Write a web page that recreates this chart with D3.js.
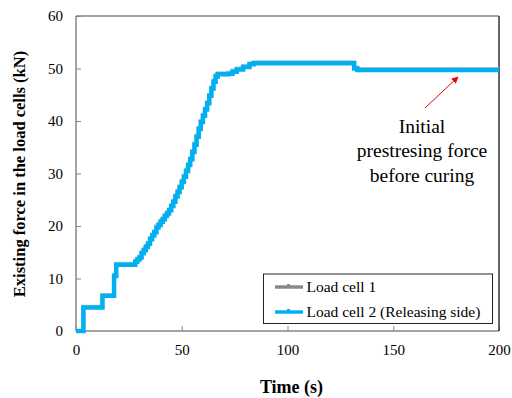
<!DOCTYPE html>
<html><head><meta charset="utf-8">
<script src="https://cdn.jsdelivr.net/npm/d3@7"></script>
<style>body{margin:0;background:#fff}svg{display:block}svg text{font-family:'Liberation Serif','Times New Roman',Times,serif !important;fill:#000}</style>
</head><body><svg id="c" width="512" height="398"></svg>
<script>
const timeS = [0,2.5,3.5,12,12.5,17,18,19,27,28,29,30,31,32,33,34,35,36,37,38,39,40,41,42,43,44,45,46,47,48,49,50,51,52,53,54,55,56,57,58,59,60,61,62,63,64,65,66,67,72,74,76,79,82,84,100,120,130,131.5,133,150,175,200];
const loadCell2 = [0,0,4.5,4.5,6.7,6.7,10.5,12.6,12.6,13.2,13.6,14.0,14.8,15.4,16.0,16.6,17.5,18.2,18.8,19.7,20.2,20.8,21.3,21.9,22.4,23.0,23.8,24.6,25.6,26.5,27.4,28.4,29.4,30.5,31.6,32.7,34.1,35.5,37.0,38.5,39.8,41.0,42.2,43.4,44.8,46.2,47.5,48.5,48.9,49.0,49.4,49.8,50.3,50.8,51.0,51.0,51.0,51.0,50.0,49.7,49.7,49.7,49.7];
const loadCell1 = [0,0,4.6,4.6,6.8,6.8,10.7,12.8,12.8,13.4,13.8,14.2,15.0,15.6,16.2,16.8,17.7,18.4,19.0,19.9,20.4,21.0,21.5,22.1,22.6,23.2,24.0,24.8,25.8,26.7,27.6,28.6,29.6,30.7,31.8,32.9,34.3,35.7,37.2,38.7,40.0,41.2,42.4,43.6,45.0,46.4,47.7,48.7,49.1,49.2,49.6,50.0,50.5,51.0,51.2,51.2,51.2,51.2,50.2,49.9,49.9,49.9,49.9];
const seriesNames = ["Load cell 1","Load cell 2 (Releasing side)"];
const xTicks = [0,50,100,150,200];
const yTicks = [0,10,20,30,40,50,60];
const noteLines = ["Initial","prestresing force","before curing"];

const svg = d3.select("#c");
const L=76,R=499,T=16,B=331;
const x=d3.scaleLinear().domain([0,200]).range([L,R]);
const y=d3.scaleLinear().domain([0,60]).range([B,T]);

const gx=svg.append("g").attr("transform",`translate(0,${B})`)
  .call(d3.axisBottom(x).tickValues(xTicks).tickSize(-5).tickPadding(13).tickFormat(d3.format("d")));
gx.attr("font-family",null);
gx.select(".domain").remove();
gx.selectAll("line").attr("stroke","#868686");
gx.selectAll("text").attr("font-size",15);
const gy=svg.append("g").attr("transform",`translate(${L},0)`)
  .call(d3.axisLeft(y).tickValues(yTicks).tickSize(-5).tickPadding(13).tickFormat(d3.format("d")));
gy.attr("font-family",null);
gy.select(".domain").remove();
gy.selectAll("line").attr("stroke","#868686");
gy.selectAll("text").attr("font-size",15);

svg.append("line").attr("x1",L).attr("x2",R).attr("y1",T).attr("y2",T).attr("stroke","#868686").attr("stroke-width",1.5);
svg.append("line").attr("x1",L).attr("x2",L).attr("y1",T).attr("y2",B).attr("stroke","#868686").attr("stroke-width",1.5);
svg.append("line").attr("x1",L).attr("x2",R).attr("y1",B).attr("y2",B).attr("stroke","#868686").attr("stroke-width",1.5);
svg.append("line").attr("x1",R).attr("x2",R).attr("y1",T).attr("y2",B).attr("stroke","#333").attr("stroke-width",1.5);

const line=d3.line().x((d,i)=>x(timeS[i])).y(d=>y(d)).curve(d3.curveStepAfter);
svg.append("path").attr("d",line(loadCell1)).attr("fill","none").attr("stroke","#c4c4c4").attr("stroke-width",4);
svg.append("path").attr("d",line(loadCell2)).attr("fill","none").attr("stroke","#00B0F0").attr("stroke-width",4.5);

const lg=svg.append("g");
lg.append("rect").attr("x",263.5).attr("y",274).attr("width",229).attr("height",49.5).attr("fill","#fff").attr("stroke","#222").attr("stroke-width",1);
const cols=["#888","#00B0F0"];
seriesNames.forEach((n,i)=>{
  const yy=287+i*25;
  lg.append("line").attr("x1",275).attr("x2",303).attr("y1",yy).attr("y2",yy).attr("stroke",cols[i]).attr("stroke-width",3.5);
  lg.append("rect").attr("x",287).attr("y",yy-3).attr("width",3).attr("height",3).attr("fill",cols[i]);
  lg.append("text").attr("x",306.5).attr("y",yy+5).attr("font-size",15.5).text(n);
});

const defs=svg.append("defs");
defs.append("marker").attr("id","ah").attr("viewBox","0 0 10 10").attr("refX",9).attr("refY",5)
  .attr("markerWidth",7).attr("markerHeight",7).attr("orient","auto")
  .append("path").attr("d","M0,0L10,5L0,10z").attr("fill","#e00");
svg.append("line").attr("x1",425).attr("y1",108).attr("x2",458).attr("y2",77)
  .attr("stroke","#e00").attr("stroke-width",1).attr("marker-end","url(#ah)");
noteLines.forEach((s,i)=>{
  svg.append("text").attr("x",422).attr("y",133+i*24.3).attr("text-anchor","middle").attr("font-size",19.5).text(s);
});

svg.append("text").attr("x",291.5).attr("y",393).attr("text-anchor","middle").attr("font-size",18).attr("font-weight","bold").text("Time (s)");
svg.append("text").attr("transform","translate(25,174) rotate(-90)").attr("text-anchor","middle").attr("font-size",16.5).attr("font-weight","bold").text("Existing force in the load cells (kN)");
</script></body></html>
